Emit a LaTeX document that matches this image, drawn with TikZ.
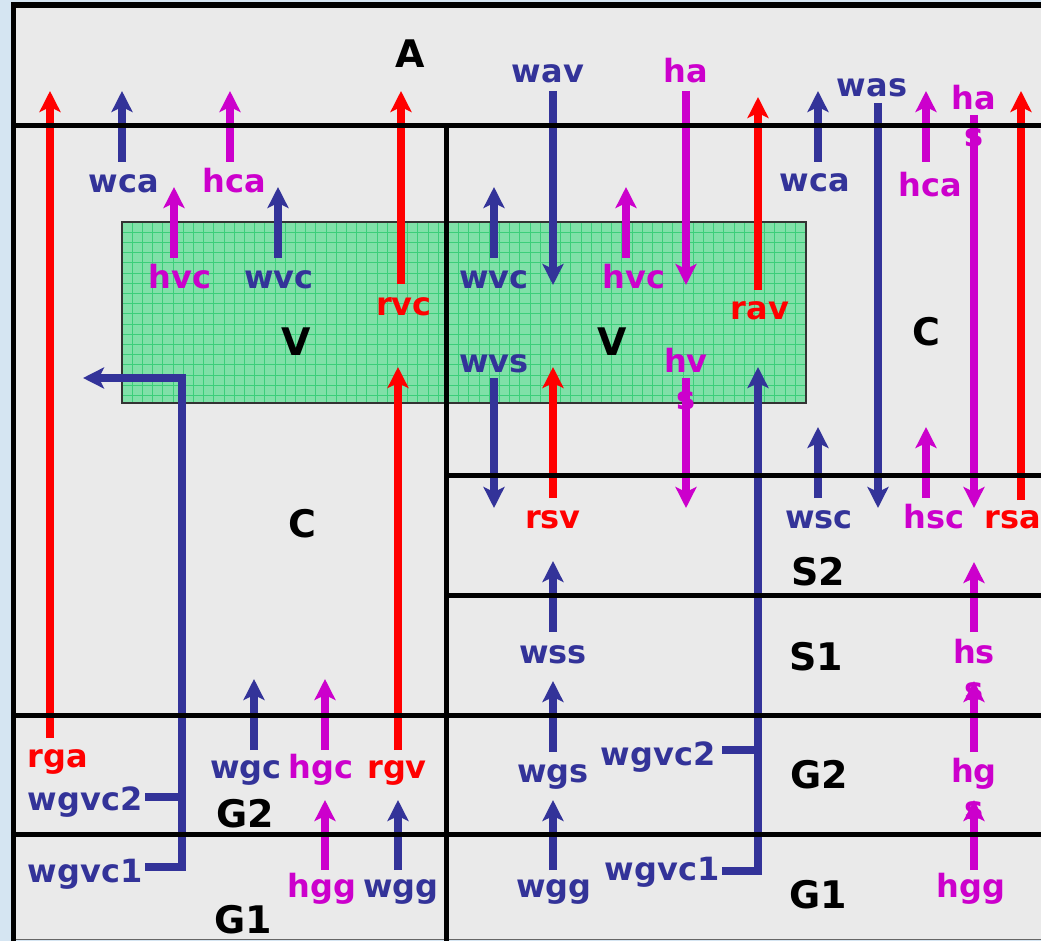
\documentclass[tikz,border=0pt]{standalone}
\usepackage{fontspec}
\setmainfont{DejaVu Sans}
\usetikzlibrary{arrows.meta}
\definecolor{navyflow}{HTML}{333399}
\definecolor{magflow}{HTML}{CC00CC}
\definecolor{redflow}{HTML}{FF0000}
\definecolor{panel}{HTML}{EAEAEA}
\definecolor{slide}{HTML}{D5E5F2}
\definecolor{leaf}{RGB}{128,224,168}
\definecolor{leafgrid}{RGB}{60,206,122}
\tikzset{
  flow/.style={line width=7.5pt, line join=miter,
    -{Stealth[length=21pt,width=21pt,inset=5pt]}},
  plainflow/.style={line width=7.5pt, line join=miter},
  wall/.style={line width=5pt, draw=black},
  lbl/.style={font=\fontsize{32}{37}\selectfont\bfseries, anchor=base,
    inner sep=0pt, align=center},
  zone/.style={font=\fontsize{38}{44}\selectfont\bfseries, anchor=base,
    inner sep=0pt, text=black},
}
\begin{document}
\begin{tikzpicture}[x=1pt,y=-1pt]
\useasboundingbox (0,0) rectangle (1041,941);
\clip (0,0) rectangle (1041,941);

% backdrop and panel
\fill[slide] (0,0) rectangle (1041,941);
\fill[panel] (13,5) rectangle (1060,939);
\draw[line width=1pt, black!60] (13,939) -- (1060,939);

% vegetation layer with its grid texture
\fill[leaf] (122,222) rectangle (806,403);
\begin{scope}
  \clip (122,222) rectangle (806,403);
  \foreach \gx in {0,...,67}
    \draw[leafgrid, line width=0.8pt] (122+\gx*10.2,222) -- ++(0,181);
  \foreach \gy in {0,...,18}
    \draw[leafgrid, line width=0.8pt] (122,222+\gy*10.2) -- ++(684,0);
\end{scope}
\draw[line width=2pt, black!80] (122,222) rectangle (806,403);

% vertical flux arrows: name / colour / x / tail y / head y
\foreach \n/\c/\x/\ya/\yb in {
  rga/redflow/50/738/91,
  wcaL/navyflow/122/162/91,
  hcaL/magflow/230/162/91,
  hvcL/magflow/174/258/187,
  wvcL/navyflow/278/258/187,
  rvc/redflow/401/284/91,
  rgv/redflow/398/750/367,
  wgc/navyflow/254/750/679,
  hgc/magflow/325/750/679,
  hggL/magflow/325/870/800,
  wggL/navyflow/398/870/800,
  wav/navyflow/553/91/285,
  ha/magflow/686/91/285,
  wvcR/navyflow/494/258/187,
  hvcR/magflow/626/258/187,
  rav/redflow/758/290/97,
  wcaR/navyflow/818/162/91,
  was/navyflow/878/103/508,
  hcaR/magflow/926/162/91,
  has/magflow/974/115/508,
  rsa/redflow/1021/500/91,
  wvs/navyflow/494/378/508,
  rsv/redflow/553/498/367,
  hvs/magflow/686/378/508,
  wsc/navyflow/818/498/427,
  hsc/magflow/926/498/427,
  wss/navyflow/553/632/561,
  hss/magflow/974/632/562,
  wgs/navyflow/553/752/681,
  hgs/magflow/974/752/681,
  wggR/navyflow/553/870/800,
  hggR/magflow/974/870/800}
{
  \coordinate (\n-a) at (\x,\ya);
  \coordinate (\n-b) at (\x,\yb);
  \draw[flow, draw=\c] (\n-a) -- (\n-b);
}

% ground-to-vegetation water paths (two ground layers feed one riser)
\coordinate (gvL1) at (145,867);
\coordinate (gvL2) at (145,797);
\coordinate (gvLtop) at (182,378);
\coordinate (gvLhead) at (83,378);
\draw[flow, draw=navyflow] (gvL1) -| (gvLtop) -- (gvLhead);
\draw[plainflow, draw=navyflow] (gvL2) -- (gvL2 -| gvLtop);

\coordinate (gvR1) at (722,871);
\coordinate (gvR2) at (722,750);
\coordinate (gvRhead) at (758,367);
\draw[flow, draw=navyflow] (gvR1) -| (gvRhead);
\draw[plainflow, draw=navyflow] (gvR2) -- (gvR2 -| gvRhead);

% compartment walls
\draw[line width=5.5pt] (1060,5) -- (13.5,5) -- (13.5,941);
\draw[wall] (13,126) -- (1060,126);
\draw[wall] (446,126) -- (446,941);
\draw[wall] (446,475) -- (1060,475);
\draw[wall] (446,595) -- (1060,595);
\draw[wall] (13,715) -- (1060,715);
\draw[wall] (13,834) -- (1060,834);

% compartment names
\node[zone] (zA)   at (410,68)  {A};
\node[zone] (zVL)  at (296,355) {V};
\node[zone] (zVR)  at (612,355) {V};
\node[zone] (zCL)  at (302,537) {C};
\node[zone] (zCR)  at (926,345) {C};
\node[zone] (zS2)  at (818,585) {S2};
\node[zone] (zS1)  at (816,670) {S1};
\node[zone] (zG2L) at (245,827) {G2};
\node[zone] (zG1L) at (243,933) {G1};
\node[zone] (zG2R) at (819,788) {G2};
\node[zone] (zG1R) at (818,908) {G1};

% flux labels, left column
\node[lbl, text=navyflow] (t-wcaL)  at (124,193) {wca};
\node[lbl, text=magflow]  (t-hcaL)  at (234,193) {hca};
\node[lbl, text=magflow]  (t-hvcL)  at (180,288) {hvc};
\node[lbl, text=navyflow] (t-wvcL)  at (279,288) {wvc};
\node[lbl, text=redflow]  (t-rvc)   at (404,315) {rvc};
\node[lbl, text=redflow]  (t-rga)   at (58,767)  {rga};
\node[lbl, text=navyflow] (t-wgc)   at (246,778) {wgc};
\node[lbl, text=magflow]  (t-hgc)   at (321,778) {hgc};
\node[lbl, text=redflow]  (t-rgv)   at (397,778) {rgv};
\node[lbl, text=navyflow] (t-gvL2)  at (85,810)  {wgvc2};
\node[lbl, text=navyflow] (t-gvL1)  at (85,882)  {wgvc1};
\node[lbl, text=magflow]  (t-hggL)  at (322,897) {hgg};
\node[lbl, text=navyflow] (t-wggL)  at (401,897) {wgg};

% flux labels, right column (two-line labels sit on their second line)
\node[lbl, text=navyflow] (t-wav)   at (548,83)  {wav};
\node[lbl, text=magflow]  (t-ha)    at (686,83)  {ha};
\node[lbl, text=navyflow] (t-wvcR)  at (494,288) {wvc};
\node[lbl, text=magflow]  (t-hvcR)  at (634,288) {hvc};
\node[lbl, text=redflow]  (t-rav)   at (760,319) {rav};
\node[lbl, text=navyflow] (t-wcaR)  at (815,192) {wca};
\node[lbl, text=navyflow] (t-was)   at (872,97)  {was};
\node[lbl, text=magflow]  (t-hcaR)  at (930,197) {hca};
\node[lbl, text=magflow]  (t-has)   at (974,147) {ha\\s};
\node[lbl, text=navyflow] (t-wvs)   at (494,372) {wvs};
\node[lbl, text=magflow]  (t-hvs)   at (686,409) {hv\\s};
\node[lbl, text=redflow]  (t-rsv)   at (553,528) {rsv};
\node[lbl, text=navyflow] (t-wsc)   at (819,528) {wsc};
\node[lbl, text=magflow]  (t-hsc)   at (934,528) {hsc};
\node[lbl, text=redflow]  (t-rsa)   at (1013,528) {rsa};
\node[lbl, text=navyflow] (t-wss)   at (553,663) {wss};
\node[lbl, text=magflow]  (t-hss)   at (974,700) {hs\\s};
\node[lbl, text=navyflow] (t-wgs)   at (553,782) {wgs};
\node[lbl, text=navyflow] (t-gvR2)  at (658,765) {wgvc2};
\node[lbl, text=magflow]  (t-hgs)   at (974,819) {hg\\s};
\node[lbl, text=navyflow] (t-gvR1)  at (662,880) {wgvc1};
\node[lbl, text=navyflow] (t-wggR)  at (554,897) {wgg};
\node[lbl, text=magflow]  (t-hggR)  at (971,897) {hgg};
\end{tikzpicture}
\end{document}
